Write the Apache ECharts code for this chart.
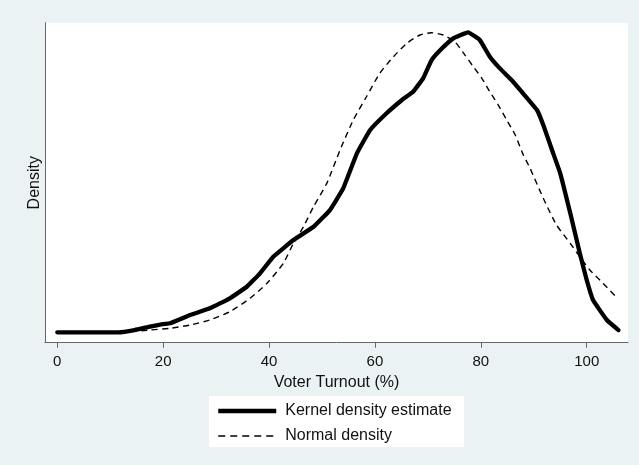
<!DOCTYPE html>
<html><head><meta charset="utf-8">
<script src="https://cdn.jsdelivr.net/npm/echarts@6/dist/echarts.min.js"></script>
<style>html,body{margin:0;padding:0;background:#eaf2f3}#c{width:639px;height:465px}</style>
</head><body><div id="c"></div>
<script>
// Kernel density estimate
const kernelX = [0, 11.6, 14.6, 17.5, 20.0, 21.3, 25.1, 28.8, 32.6, 35.8, 38.3, 40.8, 44.6, 48.4, 51.5, 54.0, 56.6, 59.1, 62.2, 65.1, 67.2, 69.1, 70.7, 72.5, 74.8, 77.6, 79.8, 81.7, 83.6, 85.8, 87.7, 90.6, 91.8, 93.4, 95.0, 96.9, 98.7, 100.0, 101.2, 103.8, 106.0];
const kernelY = [0, 0, 0.00018, 0.00045, 0.00066, 0.00072, 0.00138, 0.00191, 0.00271, 0.00363, 0.0047, 0.00602, 0.00735, 0.00841, 0.00974, 0.01147, 0.01426, 0.01612, 0.01745, 0.01851, 0.01917, 0.02024, 0.02169, 0.02255, 0.02342, 0.0239, 0.02329, 0.02196, 0.02103, 0.0201, 0.01917, 0.01771, 0.01652, 0.01458, 0.01267, 0.00948, 0.00629, 0.00417, 0.00257, 0.00098, 0.00018];
// Normal density
const normalX = [0, 12.3, 17.5, 21.3, 25.1, 28.8, 32.6, 36.4, 39.6, 42.7, 44.6, 46.5, 48.4, 50.9, 53.4, 55.9, 58.4, 60.9, 63.5, 66.0, 68.5, 70.7, 72.9, 75.1, 77.0, 78.6, 80.2, 81.7, 83.3, 84.9, 86.5, 87.9, 89.3, 91.8, 94.3, 96.9, 98.7, 100.6, 103.1, 105.8];
const normalY = [0, 0.00002, 0.00018, 0.00032, 0.00058, 0.00098, 0.00164, 0.00271, 0.0039, 0.0055, 0.00709, 0.00841, 0.01001, 0.01187, 0.01452, 0.01691, 0.01877, 0.02063, 0.02196, 0.02302, 0.02369, 0.02387, 0.02369, 0.02315, 0.02209, 0.02116, 0.02024, 0.01917, 0.01811, 0.01691, 0.01572, 0.01426, 0.01307, 0.01068, 0.00855, 0.00709, 0.00602, 0.00496, 0.0039, 0.00271];
const xTicks = [0, 20, 40, 60, 80, 100];
const seriesNames = ['Kernel density estimate', 'Normal density'];
const xTitle = 'Voter Turnout (%)';
const yTitle = 'Density';

const font = "'Liberation Sans', Arial, Helvetica, sans-serif";
const pairs = (xs, ys) => xs.map((x, i) => [x, ys[i]]);

const chart = echarts.init(document.getElementById('c'), null, {renderer: 'canvas'});
chart.setOption({
  backgroundColor: '#eaf2f3',
  animation: false,
  textStyle: {fontFamily: font},
  graphic: [{
    type: 'rect', left: 209, top: 396, z: -1,
    shape: {width: 255, height: 51},
    style: {fill: '#ffffff'}
  }],
  legend: {
    orient: 'vertical', left: 216, top: 403, padding: 0,
    itemWidth: 58, itemHeight: 14, itemGap: 9,
    itemStyle: {opacity: 0},
    textStyle: {fontSize: 16, color: '#111', fontFamily: font, padding: [0, 0, 0, 4]},
    data: [
      {name: seriesNames[0], lineStyle: {width: 4.5, color: '#000', cap: 'butt'}},
      {name: seriesNames[1], lineStyle: {width: 1.4, color: '#000', type: [7, 5], cap: 'butt'}}
    ]
  },
  grid: {
    left: 45, top: 22.7, width: 583, height: 320,
    show: true, backgroundColor: '#ffffff', borderWidth: 0
  },
  xAxis: {
    type: 'value', min: -2.32, max: 107.8,
    name: xTitle, nameLocation: 'middle', nameGap: 27,
    nameTextStyle: {fontSize: 16, color: '#111', fontFamily: font},
    axisLine: {show: true, onZero: false, lineStyle: {color: '#666', width: 1}},
    axisTick: {show: true, length: 5, lineStyle: {color: '#666'}, customValues: xTicks},
    axisLabel: {fontSize: 15, color: '#111', margin: 12, fontFamily: font, customValues: xTicks},
    splitLine: {show: false}
  },
  yAxis: {
    type: 'value', min: -0.000829, max: 0.02467,
    name: yTitle, nameLocation: 'middle', nameGap: 2, nameRotate: 90,
    nameTextStyle: {fontSize: 16, color: '#111', fontFamily: font},
    axisLine: {show: true, onZero: false, lineStyle: {color: '#666', width: 1}},
    axisTick: {show: false}, axisLabel: {show: false}, splitLine: {show: false}
  },
  series: [
    {
      name: seriesNames[0], type: 'line', data: pairs(kernelX, kernelY),
      showSymbol: false, symbol: 'none', smooth: 0.1,
      lineStyle: {color: '#000', width: 4.3, join: 'round', cap: 'round'},
      itemStyle: {color: '#000'}
    },
    {
      name: seriesNames[1], type: 'line', data: pairs(normalX, normalY),
      showSymbol: false, symbol: 'none', smooth: 0.2,
      lineStyle: {color: '#000', width: 1.4, type: [6, 4.5]},
      itemStyle: {color: '#000'}
    }
  ]
});
</script>
</body></html>
